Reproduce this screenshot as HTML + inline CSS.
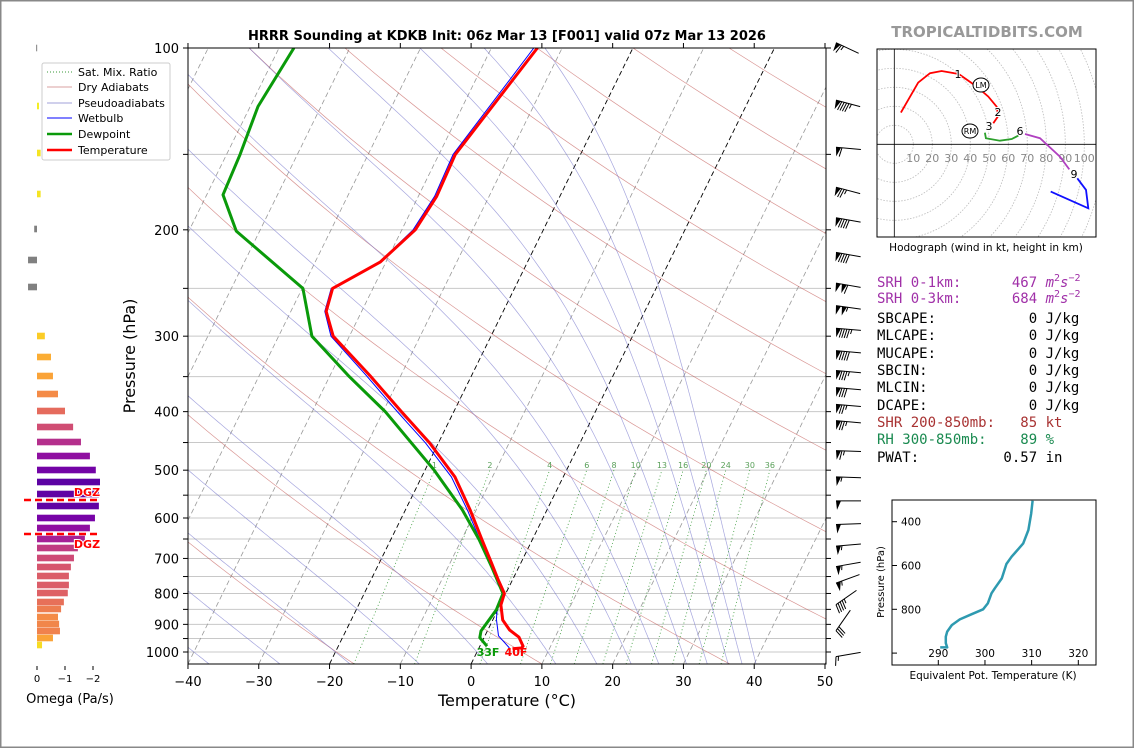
<!DOCTYPE html>
<html><head><meta charset="utf-8"><title>HRRR Sounding KDKB</title>
<style>
html,body{margin:0;padding:0;background:#fff;}
svg{display:block;font-family:"DejaVu Sans","Liberation Sans",sans-serif;}
.mono{font-family:"DejaVu Sans Mono","Liberation Mono",monospace;font-size:14px;}
</style></head><body>
<svg id="chart" width="1134" height="748" viewBox="0 0 1134 748" xmlns="http://www.w3.org/2000/svg">
<rect x="0.5" y="0.5" width="1133" height="747" fill="#fff" stroke="#888" stroke-width="2"/>
<defs>
<clipPath id="plotClip"><rect x="188" y="48" width="638" height="616"/></clipPath>
<clipPath id="hodoClip"><rect x="877" y="49" width="219" height="188"/></clipPath>
</defs>
<g id="bg" clip-path="url(#plotClip)"></g>
<g id="profiles" clip-path="url(#plotClip)"></g>
<g id="axes"></g>
<g id="barbs"></g>
<g id="omega"></g>
<g id="hodo"></g>
<g id="thetae"></g>

<text x="507" y="40" text-anchor="middle" font-size="13" font-weight="bold">HRRR Sounding at KDKB Init: 06z Mar 13 [F001] valid 07z Mar 13 2026</text>
<text x="987" y="37" text-anchor="middle" font-size="15" font-weight="bold" fill="#999">TROPICALTIDBITS.COM</text>
<text x="507" y="706" text-anchor="middle" font-size="16">Temperature (°C)</text>
<text x="135" y="356" text-anchor="middle" font-size="16" transform="rotate(-90 135 356)">Pressure (hPa)</text>

<g>
<rect x="42" y="63" width="128" height="97" fill="#fff" stroke="#ccc" rx="2"/>
<line x1="47" y1="72" x2="72" y2="72" stroke="#3a9a3a" stroke-dasharray="1,2"/>
<text x="78" y="76" font-size="11">Sat. Mix. Ratio</text>
<line x1="47" y1="87" x2="72" y2="87" stroke="#d9a0a0"/>
<text x="78" y="91" font-size="11">Dry Adiabats</text>
<line x1="47" y1="103" x2="72" y2="103" stroke="#a0a0d8"/>
<text x="78" y="107" font-size="11">Pseudoadiabats</text>
<line x1="47" y1="118" x2="72" y2="118" stroke="#0000ff"/>
<text x="78" y="122" font-size="11">Wetbulb</text>
<line x1="47" y1="134" x2="72" y2="134" stroke="#0a9a0a" stroke-width="2.5"/>
<text x="78" y="138" font-size="11">Dewpoint</text>
<line x1="47" y1="150" x2="72" y2="150" stroke="#ff0000" stroke-width="2.5"/>
<text x="78" y="154" font-size="11">Temperature</text>
</g>

<g class="mono">
<text x="877" y="287" fill="#a030a8" xml:space="preserve">SRH 0-1km:      467 <tspan font-style="italic">m</tspan><tspan font-size="10" dy="-6">2</tspan><tspan font-style="italic" dy="6">s</tspan><tspan font-size="10" dy="-6">−2</tspan></text>
<text x="877" y="303" fill="#a030a8" xml:space="preserve">SRH 0-3km:      684 <tspan font-style="italic">m</tspan><tspan font-size="10" dy="-6">2</tspan><tspan font-style="italic" dy="6">s</tspan><tspan font-size="10" dy="-6">−2</tspan></text>
<text x="877" y="323" xml:space="preserve">SBCAPE:           0 J/kg</text>
<text x="877" y="340" xml:space="preserve">MLCAPE:           0 J/kg</text>
<text x="877" y="358" xml:space="preserve">MUCAPE:           0 J/kg</text>
<text x="877" y="375" xml:space="preserve">SBCIN:            0 J/kg</text>
<text x="877" y="392" xml:space="preserve">MLCIN:            0 J/kg</text>
<text x="877" y="410" xml:space="preserve">DCAPE:            0 J/kg</text>
<text x="877" y="427" fill="#a83232" xml:space="preserve">SHR 200-850mb:   85 kt</text>
<text x="877" y="444" fill="#1a8a50" xml:space="preserve">RH 300-850mb:    89 %</text>
<text x="877" y="462" xml:space="preserve">PWAT:          0.57 in</text>
</g>
</svg>
<script>
// ===== Skew-T data =====
const tempP = [100,150,176,200,226,250,273,300,349,400,451,513,581,652,711,760,800,836,885,920,945,978,985,988];
const tempC = [-33.5,-37.7,-37.4,-38.1,-40.8,-45.7,-45.0,-42.3,-34.3,-27.4,-21.2,-15.3,-10.9,-7.1,-4.2,-2.0,-0.2,0.1,1.4,3.1,4.9,6.1,6.0,4.8];
const dewP = [100,125,150,175,201,250,300,350,400,500,581,652,726,800,851,923,947,978];
const dewC = [-67.9,-68.9,-68.1,-67.7,-63.3,-49.9,-45.3,-37.2,-29.7,-18.7,-12.0,-7.5,-3.7,-0.4,-0.2,-0.9,-0.6,1.0];
const wbP = [100,150,176,200,226,250,273,300,349,400,451,513,581,652,711,760,800,840,882,940,985];
const wbC = [-34.0,-38.0,-37.7,-38.4,-40.9,-45.9,-45.2,-42.6,-34.8,-28.0,-21.8,-15.8,-11.3,-7.4,-4.4,-2.2,-0.4,-0.3,0.45,1.9,4.3];
const xTicks = [-40,-30,-20,-10,0,10,20,30,40,50];
const pLabels = [100,200,300,400,500,600,700,800,900,1000];
const pGrid = [100,150,200,250,300,350,400,450,500,550,600,650,700,750,800,850,900,950,1000];
const mixRatios = [1,2,4,6,8,10,13,16,20,24,30,36];
const dryThetaK = [174.7,200.9,227.1,253.3,279.5,305.7,331.9,358.1,384.3,410.5,436.7,462.9,489.1,515.3,541.5];
const moistT0 = [-50,-40,-30,-20,-10,0,10,16,21,25,29,32,35,37,39];
// wind barbs
const barbP = [98,122,146,170,191,218,245,267,291,317,342,365,389,414,464,513,562,615,668,722,769,835,922,1018];
const barbSpd = [65,95,60,75,90,90,110,105,95,90,85,80,75,75,65,55,50,50,55,55,55,45,30,15];
const barbDir = [295,285,275,285,280,280,280,278,275,275,275,275,275,275,272,272,270,268,265,260,250,235,215,260];
// omega
const omegaY = [48,106,153,194,229,260,287,336,357,376,394,411,427,442,456,470,482,494,506,518,528,539,548,558,567,576,585,593,602,609,617,624,631,638,645];
const omegaVal = [0.03,-0.07,-0.13,-0.13,0.1,0.32,0.32,-0.28,-0.5,-0.57,-0.75,-1.0,-1.29,-1.57,-1.89,-2.1,-2.25,-2.21,-2.21,-2.07,-1.89,-1.71,-1.46,-1.32,-1.21,-1.14,-1.14,-1.1,-0.96,-0.86,-0.75,-0.79,-0.82,-0.57,-0.18];
// hodograph (kt)
const hodoRedU = [3.5,12.6,18.8,24.9,33.9,43.3,49.5,53.9,54.7,52.1];
const hodoRedV = [16.7,32.5,37.4,38.6,37.0,30.4,25.1,19.8,14.9,11.1];
const hodoGreenU = [47.7,48.2,55.6,61.8,65.3];
const hodoGreenV = [6.1,3.2,1.9,2.8,4.6];
const hodoMagU = [68.8,76.7,87.2,92.1];
const hodoMagV = [5.4,3.2,-6.5,-13.2];
const hodoBlueU = [96.3,100.9,102.1,82.3];
const hodoBlueV = [-17.9,-24.0,-33.7,-24.9];
const hodoRings = [10,20,30,40,50,60,70,80,90,100,110,120];
// theta-e
const thetaP = [304,362,438,499,526,560,593,659,704,727,773,800,823,846,872,902,925,955,974,974];
const thetaK = [310.2,309.9,309.3,308.2,307.1,305.7,304.6,303.6,302.1,301.4,300.6,299.6,297.1,294.6,292.9,291.9,291.6,291.6,291.9,290.4];
const thetaXTicks = [290,300,310,320];
const thetaYTicks = [400,600,800,1000];

const NS = 'http://www.w3.org/2000/svg';
function mk(tag, attrs, parent){const e=document.createElementNS(NS,tag);for(const k in attrs)e.setAttribute(k,attrs[k]);parent.appendChild(e);return e;}
function Y(p){return 48+604*Math.log10(p/100);}
function X(T,p){return 471.1+T*7.078+(664-Y(p))*0.4925;}
const bg=document.getElementById('bg'), prof=document.getElementById('profiles'), ax=document.getElementById('axes');

pGrid.forEach(p=>{
  const l=mk('line',{x1:188,x2:826,y1:Y(p),y2:Y(p),stroke:'#c8c8c8','stroke-width':1},bg);
  
  
});
for(let T=-120;T<=50;T+=10){
  const special=(T===0||T===-20);
  const l=mk('line',{x1:X(T,1047),y1:664,x2:X(T,100),y2:48,stroke:special?'#000':'#999','stroke-width':special?0.9:0.8,'stroke-dasharray':'5,3'},bg);
  
  
}
dryThetaK.forEach(th=>{
  let d='';
  for(let p=1050;p>=100;p-=10){const T=th*Math.pow(p/1000,0.286)-273.15;d+=(d?'L':'M')+X(T,p).toFixed(1)+','+Y(p).toFixed(1);}
  const e=mk('path',{d:d,fill:'none',stroke:'#c0504d','stroke-width':0.7,'stroke-opacity':0.6},bg);
  
  
});
function es(T){return 6.112*Math.exp(17.67*T/(T+243.5));}
function dTdp(T,p){const Tk=T+273.15;const rs=0.622*es(T)/(p-es(T));const Rd=287,Lv=2.5e6,Cp=1005;
  return (1/p)*(Rd*Tk+Lv*rs)/(Cp+Lv*Lv*rs*0.622/(Rd*Tk*Tk));}
moistT0.forEach(t0=>{
  const down=[];let T=t0;
  for(let p=1000;p<=1050;p+=2){down.push([p,T]);T+=dTdp(T,p)*2;}
  down.reverse();
  const up=[];T=t0;
  for(let p=1000;p>=100;p-=5){up.push([p,T]);T-=dTdp(T,p)*5;}
  const all=down.concat(up);
  let d='';all.forEach(q=>{d+=(d?'L':'M')+X(q[1],q[0]).toFixed(1)+','+Y(q[0]).toFixed(1);});
  const e=mk('path',{d:d,fill:'none',stroke:'#6a6ac8','stroke-width':0.7,'stroke-opacity':0.6},bg);
  
  
});
function tdFromW(w,p){const e=w*p/(622+w);const l=Math.log(e/6.112);return 243.5*l/(17.67-l);}
mixRatios.forEach(w=>{
  const Tb=tdFromW(w,1047);const Tt=Tb-(2.1+0.0867*(Tb+16.6));
  const yt=470;
  const x1=471.1+Tb*7.078, x2=471.1+Tt*7.078+(664-yt)*0.4925;
  const e=mk('line',{x1:x1,y1:664,x2:x2,y2:yt,stroke:'#3a9a3a','stroke-width':0.8,'stroke-dasharray':'1,2.5'},bg);
  
  
  const t=mk('text',{x:x2,y:468,'font-size':8,fill:'#5aa05a','text-anchor':'middle'},bg);
  t.textContent=w;
  
  
});
function pathOf(P,Tarr){let d='';P.forEach((p,i)=>{d+=(d?'L':'M')+X(Tarr[i],p).toFixed(1)+','+Y(p).toFixed(1);});return d;}
let e;
e=mk('path',{d:pathOf(wbP,wbC),fill:'none',stroke:'#0000ff','stroke-width':1},prof);


e=mk('path',{d:pathOf(dewP,dewC),fill:'none',stroke:'#0a9a0a','stroke-width':3,'stroke-linejoin':'round'},prof);


e=mk('path',{d:pathOf(tempP,tempC),fill:'none',stroke:'#ff0000','stroke-width':3,'stroke-linejoin':'round'},prof);


e=mk('text',{x:488,y:656,'font-size':11,'font-weight':'bold',fill:'#0a9a0a','text-anchor':'middle'},prof);
e.textContent='33F';


e=mk('text',{x:516,y:656,'font-size':11,'font-weight':'bold',fill:'#ff0000','text-anchor':'middle'},prof);
e.textContent='40F';



e=mk('rect',{x:188,y:48,width:638,height:616,fill:'none',stroke:'#000','stroke-width':1},ax);


xTicks.forEach(T=>{
  const x=471.1+T*7.078;
  mk('line',{x1:x,x2:x,y1:664,y2:669,stroke:'#000'},ax);
  mk('line',{x1:x,x2:x,y1:48,y2:43,stroke:'#000'},ax);
  const t=mk('text',{x:x,y:686,'font-size':13,'text-anchor':'middle'},ax);
  t.textContent=(T<0?'\u2212'+(-T):T);
  
  
});
pGrid.forEach(p=>{
  mk('line',{x1:183,x2:188,y1:Y(p),y2:Y(p),stroke:'#000'},ax);
  mk('line',{x1:826,x2:831,y1:Y(p),y2:Y(p),stroke:'#000'},ax);
});
pLabels.forEach(p=>{
  const t=mk('text',{x:179,y:Y(p)+5,'font-size':13,'text-anchor':'end'},ax);
  t.textContent=p;
  
  
});

const bg2=document.getElementById('barbs');
barbP.forEach((p,i)=>{
  const y=Y(p);const d=barbDir[i]*Math.PI/180;
  const vx=Math.sin(d), vy=-Math.cos(d);
  const L=25;const tipx=836, tipy=y;
  const ancx=tipx-vx*L, ancy=tipy-vy*L;
  const g=mk('g',{},bg2);
  
  
  mk('line',{x1:ancx,y1:ancy,x2:tipx,y2:tipy,stroke:'#000','stroke-width':1},g);
  const px=vy, py=-vx;
  let s=Math.round(barbSpd[i]/5)*5;let pos=0;
  const nf=Math.floor(s/50);s-=nf*50;const nb=Math.floor(s/10);s-=nb*10;const nh=s>=5?1:0;
  for(let k=0;k<nf;k++){
    const bx=tipx-vx*pos, by=tipy-vy*pos;
    const cx=tipx-vx*(pos+5), cy=tipy-vy*(pos+5);
    mk('polygon',{points:`${bx},${by} ${bx+px*9-vx*1},${by+py*9-vy*1} ${cx},${cy}`,fill:'#000'},g);
    pos+=6;
  }
  for(let k=0;k<nb;k++){
    const bx=tipx-vx*pos, by=tipy-vy*pos;
    mk('line',{x1:bx,y1:by,x2:bx+px*9+vx*2,y2:by+py*9+vy*2,stroke:'#000','stroke-width':1},g);
    pos+=2.5;
  }
  if(nh){const off=pos+(pos===0?3:0);const bx=tipx-vx*off, by=tipy-vy*off;
    mk('line',{x1:bx,y1:by,x2:bx+px*4.5+vx*1,y2:by+py*4.5+vy*1,stroke:'#000','stroke-width':1},g);}
});

const om=document.getElementById('omega');
const stops=[[0,[13,8,135]],[0.13,[76,2,161]],[0.25,[126,3,168]],[0.38,[169,35,149]],[0.5,[204,71,120]],[0.63,[229,107,93]],[0.75,[248,149,64]],[0.88,[253,197,39]],[1,[240,249,33]]];
function plasma(t){t=Math.max(0,Math.min(1,t));for(let i=1;i<stops.length;i++){if(t<=stops[i][0]){const a=stops[i-1],b=stops[i];const f=(t-a[0])/(b[0]-a[0]);const c=a[1].map((v,j)=>Math.round(v+(b[1][j]-v)*f));return `rgb(${c})`;}}return 'rgb(240,249,33)';}
omegaVal.forEach((v,i)=>{
  const w=-v*28;const y=omegaY[i];
  const x=w>=0?37:37+w;
  const r=mk('rect',{x:x,y:y-3.3,width:Math.max(Math.abs(w),1),height:6.6,fill:v>0?'#808080':plasma(1+v*0.37)},om);
  
  
});
[[0,'0'],[-1,'\u22121'],[-2,'\u22122']].forEach(a=>{
  const x=37-a[0]*28;
  mk('line',{x1:x,x2:x,y1:666,y2:670,stroke:'#000'},om);
  const t=mk('text',{x:x,y:682,'font-size':10,'text-anchor':'middle'},om);
  t.textContent=a[1];
  
  
});
e=mk('text',{x:70,y:703,'font-size':13,'text-anchor':'middle'},om);
e.textContent='Omega (Pa/s)';


[500,534].forEach((y,i)=>{
  const l=mk('line',{x1:24,x2:99,y1:y,y2:y,stroke:'#ff0000','stroke-width':2.5,'stroke-dasharray':'7,4'},om);
  
  
  const t=mk('text',{x:87,y:i===0?496:548,'font-size':11,'font-weight':'bold',fill:'#ff0000',stroke:'#fff','stroke-width':2,'paint-order':'stroke','text-anchor':'middle'},om);
  t.textContent='DGZ';
  
  
});

const ho=document.getElementById('hodo');
const ox=894.3, oy=144.3, k=1.9;
const hclip=mk('g',{'clip-path':'url(#hodoClip)'},ho);
hodoRings.forEach(r=>{
  const c=mk('circle',{cx:ox,cy:oy,r:r*k,fill:'none',stroke:'#bbb','stroke-width':0.8,'stroke-dasharray':'1.5,1.5'},hclip);
  
  
});
mk('line',{x1:877,x2:1096,y1:oy,y2:oy,stroke:'#000','stroke-width':0.8},hclip);
mk('line',{x1:ox,x2:ox,y1:49,y2:237,stroke:'#000','stroke-width':0.8},hclip);
hodoRings.slice(0,10).forEach(r=>{
  const t=mk('text',{x:ox+r*k,y:162,'font-size':11,fill:'#888','text-anchor':'middle'},hclip);
  t.textContent=r;
  
  
});
function hpath(U,V,col,name){let d='';U.forEach((u,i)=>{d+=(d?'L':'M')+(ox+u*k).toFixed(1)+','+(oy-V[i]*k).toFixed(1);});
  const p=mk('path',{d:d,fill:'none',stroke:col,'stroke-width':1.8},hclip);
  
  }
hpath(hodoRedU,hodoRedV,'#ff0000','hodo-0-3km');
hpath(hodoGreenU,hodoGreenV,'#2ca02c','hodo-3-6km');
hpath(hodoMagU,hodoMagV,'#b040c0','hodo-6-9km');
hpath(hodoBlueU,hodoBlueV,'#1010ff','hodo-9km-plus');
[['1',958,78],['2',998,116],['3',989,130],['6',1020,135],['9',1074,178]].forEach(a=>{
  const t=mk('text',{x:a[1],y:a[2],'font-size':11,'text-anchor':'middle',fill:'#000',stroke:'#fff','stroke-width':2,'paint-order':'stroke'},ho);
  t.textContent=a[0];
  
  
});
[['LM',981,85],['RM',970,131]].forEach(a=>{
  const c=mk('ellipse',{cx:a[1],cy:a[2],rx:8,ry:7,fill:'#fff',stroke:'#000','stroke-width':1},ho);
  
  
  const t=mk('text',{x:a[1],y:a[2]+3,'font-size':8,'text-anchor':'middle'},ho);
  t.textContent=a[0];
  
  
});
e=mk('rect',{x:877,y:49,width:219,height:188,fill:'none',stroke:'#000','stroke-width':1},ho);


e=mk('text',{x:986,y:251,'font-size':10.5,'text-anchor':'middle'},ho);
e.textContent='Hodograph (wind in kt, height in km)';



const te=document.getElementById('thetae');
function TX(t){return 938.3+(t-290)*4.667;}
function TY(p){return 521.7+(p-400)*0.219;}
e=mk('rect',{x:892,y:500,width:204,height:165,fill:'none',stroke:'#000','stroke-width':1},te);


thetaXTicks.forEach(t=>{
  mk('line',{x1:TX(t),x2:TX(t),y1:665,y2:660,stroke:'#000'},te);
  const l=mk('text',{x:TX(t),y:657,'font-size':10.5,'text-anchor':'middle'},te);
  l.textContent=t;
  
  
});
thetaYTicks.forEach(p=>{
  mk('line',{x1:892,x2:897,y1:TY(p),y2:TY(p),stroke:'#000'},te);
  if(p<1000){const l=mk('text',{x:901,y:TY(p)+4,'font-size':10.5},te);
  l.textContent=p;
  
  }
});
let td='';thetaP.forEach((p,i)=>{td+=(td?'L':'M')+TX(thetaK[i]).toFixed(1)+','+TY(p).toFixed(1);});
e=mk('path',{d:td,fill:'none',stroke:'#2e9ab0','stroke-width':2.5,'stroke-linejoin':'round'},te);


e=mk('text',{x:884,y:582,'font-size':10,'text-anchor':'middle',transform:'rotate(-90 884 582)'},te);
e.textContent='Pressure (hPa)';


e=mk('text',{x:993,y:679,'font-size':10.5,'text-anchor':'middle'},te);
e.textContent='Equivalent Pot. Temperature (K)';


</script>
</body></html>
